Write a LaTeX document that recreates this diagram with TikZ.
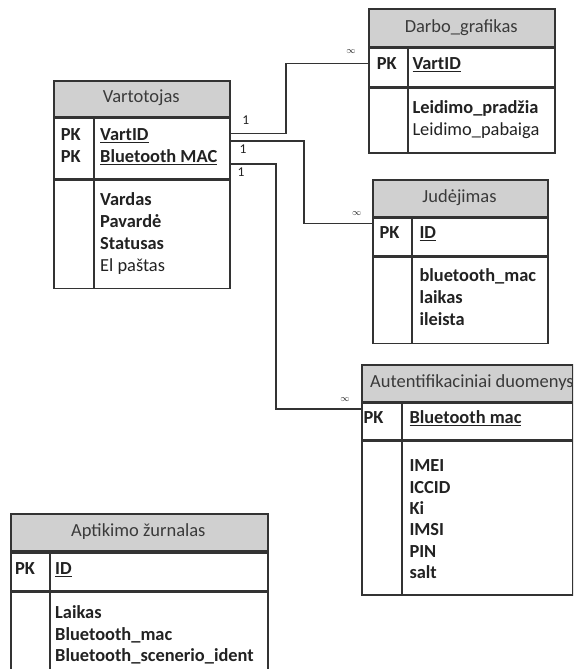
\documentclass[tikz,border=0pt]{standalone}
\usepackage{fontspec}
\setmainfont{Carlito}
\usetikzlibrary{calc}

% key field underline: a rule a little below the baseline
\newsavebox\keybox
\newcommand\keyline[1]{\sbox\keybox{#1}\rlap{\rule[-2.9pt]{\wd\keybox}{1.2pt}}\usebox\keybox}

\definecolor{ink}{HTML}{222222}
\definecolor{inksoft}{HTML}{3A3A3A}
\definecolor{edge}{HTML}{333333}
\definecolor{hdrfill}{HTML}{D0D0D0}

\tikzset{
  partbox/.style={draw=edge, line width=1.8pt, rectangle, inner sep=0pt, anchor=north west},
  hdrbox/.style={partbox, fill=hdrfill},
  divrule/.style={draw=edge, line width=1.8pt},
  htext/.style={anchor=base, inner sep=0pt, text=inksoft, font=\fontsize{18.5}{22}\selectfont},
  htextw/.style={htext, anchor=base west},
  ftext/.style={anchor=base west, inner sep=0pt, text=ink, font=\fontsize{18.4}{22}\selectfont},
  link/.style={draw=edge, line width=1.5pt},
  card/.style={inner sep=0pt, text=ink, font=\fontsize{13.5}{13.5}\selectfont},
  many/.style={inner sep=0pt, text=ink, font=\fontsize{9.5}{9.5}\selectfont},
}

% table frame: name, left, top, width, header h, key row h, body h, divider offset
\newcommand\ertab[8]{%
  \node[hdrbox, minimum width=#4, minimum height=#5] (#1-h) at (#2,#3) {};
  \node[partbox, minimum width=#4, minimum height=#6] (#1-pk) at (#1-h.south west) {};
  \node[partbox, minimum width=#4, minimum height=#7] (#1-b) at (#1-pk.south west) {};
  \draw[divrule] ($(#1-pk.north west)+(#8,0)$) -- ($(#1-b.south west)+(#8,0)$);
}

\begin{document}
\begin{tikzpicture}[x=1pt,y=-1pt]
\useasboundingbox (0,0) rectangle (573,669);
\clip (0,0) rectangle (573,669);
\fill[white] (0,0) rectangle (573,669);

% Vartotojas
\ertab{vart}{53.3}{80}{176}{35.7}{60}{108.3}{40.7}
\node[htext] (vart-t) at (141.3,102.3) {Vartotojas};
\node[ftext] (vart-k1) at (60.7,140) {\bfseries PK};
\node[ftext] (vart-k2) at (60.7,162.3) {\bfseries PK};
\node[ftext] (vart-f1) at (100,140) {\bfseries\keyline{VartID}};
\node[ftext] (vart-f2) at (100,162.3) {\bfseries\keyline{Bluetooth MAC}};
\node[ftext] (vart-f3) at (100,205) {\bfseries Vardas};
\node[ftext] (vart-f4) at (100,227) {\bfseries Pavardė};
\node[ftext] (vart-f5) at (100,249) {\bfseries Statusas};
\node[ftext] (vart-f6) at (100,271) {El paštas};

% Darbo_grafikas
\ertab{darbo}{368.3}{8.3}{185.7}{37.4}{38.3}{64.3}{39.7}
\node[htext] (darbo-t) at (461.2,32.5) {Darbo\_grafikas};
\node[ftext] (darbo-k1) at (376.7,69.3) {\bfseries PK};
\node[ftext] (darbo-f1) at (412.3,69.3) {\bfseries\keyline{VartID}};
\node[ftext] (darbo-f2) at (412.3,113.3) {\bfseries Leidimo\_pradžia};
\node[ftext] (darbo-f3) at (412.3,135.3) {Leidimo\_pabaiga};

% Judėjimas
\ertab{jud}{372.3}{179}{174.4}{36.7}{37}{86.3}{40}
\node[htext] (jud-t) at (459.5,202.3) {Judėjimas};
\node[ftext] (jud-k1) at (379.3,238.3) {\bfseries PK};
\node[ftext] (jud-f1) at (419.3,238.3) {\bfseries\keyline{ID}};
\node[ftext] (jud-f2) at (419.3,281.7) {\bfseries bluetooth\_mac};
\node[ftext] (jud-f3) at (419.3,303.7) {\bfseries laikas};
\node[ftext] (jud-f4) at (419.3,325.7) {\bfseries ileista};

% Autentifikaciniai duomenys
\ertab{aut}{361}{364}{211}{36.7}{36}{154}{40.7}
\node[htextw] (aut-t) at (370,387.7) {Autentifikaciniai duomenys};
\node[ftext] (aut-k1) at (363.3,423.3) {\bfseries PK};
\node[ftext] (aut-f1) at (409.3,423.3) {\bfseries\keyline{Bluetooth mac}};
\node[ftext] (aut-f2) at (409.3,471.7) {\bfseries IMEI};
\node[ftext] (aut-f3) at (409.3,493) {\bfseries ICCID};
\node[ftext] (aut-f4) at (409.3,514.3) {\bfseries Ki};
\node[ftext] (aut-f5) at (409.3,535.6) {\bfseries IMSI};
\node[ftext] (aut-f6) at (409.3,557) {\bfseries PIN};
\node[ftext] (aut-f7) at (409.3,578.3) {\bfseries salt};

% Aptikimo žurnalas
\ertab{apt}{10}{513.3}{256.7}{36.7}{37.7}{120}{40}
\node[htext] (apt-t) at (138.3,536.7) {Aptikimo žurnalas};
\node[ftext] (apt-k1) at (15,574.3) {\bfseries PK};
\node[ftext] (apt-f1) at (55,574.3) {\bfseries\keyline{ID}};
\node[ftext] (apt-f2) at (55,618.3) {\bfseries Laikas};
\node[ftext] (apt-f3) at (55,640) {\bfseries Bluetooth\_mac};
\node[ftext] (apt-f4) at (55,661.7) {\bfseries Bluetooth\_scenerio\_ident};

% relationship end points
\coordinate (vart-o1) at ($(vart-pk.north east)+(0,16)$);
\coordinate (vart-o2) at ($(vart-pk.north east)+(0,23.3)$);
\coordinate (vart-o3) at ($(vart-pk.north east)+(0,46.6)$);
\coordinate (darbo-in) at ($(darbo-pk.north west)+(0,16)$);
\coordinate (jud-in) at ($(jud-pk.north west)+(0,6)$);
\coordinate (aut-in) at ($(aut-pk.north west)+(0,6.5)$);

% relationships
\draw[link] (vart-o1) -- ++(55,0) |- (darbo-in);
\draw[link] (vart-o2) -- ++(72.7,0) |- (jud-in);
\draw[link] (vart-o3) -- ++(45,0) |- (aut-in);

% cardinalities
\node[card] (c-one1) at (245.7,120) {1};
\node[card] (c-one2) at (243,149.2) {1};
\node[card] (c-one3) at (241,172) {1};
\node[many] (c-many1) at (351,51.7) {$\infty$};
\node[many] (c-many2) at (356.7,213.8) {$\infty$};
\node[many] (c-many3) at (345,400) {$\infty$};
\end{tikzpicture}
\end{document}
